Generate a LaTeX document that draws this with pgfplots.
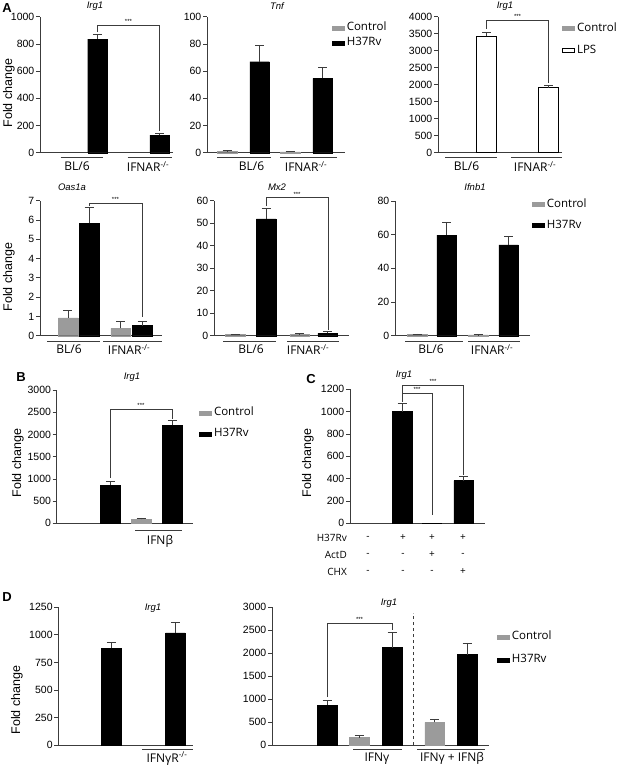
\documentclass[border=0pt]{standalone}
\usepackage{pgfplots}
\pgfplotsset{compat=1.18}
\usepackage{fontspec}
\setmainfont{Liberation Sans}
\newfontfamily\osans{Open Sans}
\definecolor{ctrl}{RGB}{155,155,155}
\definecolor{axc}{RGB}{60,60,60}

\tikzset{
 br/.style={line width=0.6pt, axc},
 star/.style={font=\fontsize{6}{6}\selectfont, inner sep=1pt, anchor=south},
}
\pgfplotsset{
 panel/.style={scale only axis, anchor=south west,
   axis x line=bottom, axis y line=left,
   axis line style={-,line width=0.7pt,axc},
   xtick=\empty, ymin=0, tick align=outside, major tick length=4pt,
   ytick style={line width=0.7pt,axc},
   yticklabel style={font=\fontsize{10.5}{12}\selectfont, inner sep=1.5pt},
   /pgf/number format/assume math mode=true,
   /pgf/number format/1000 sep={},
   clip=false},
 bk/.style={ybar, bar width=19.5pt, bar shift=0pt, fill=black, draw=black, line width=0.4pt,
   error bars/y dir=plus, error bars/y explicit,
   error bars/error bar style={line width=0.7pt, axc},
   error bars/error mark options={rotate=90, mark size=4.5pt, line width=0.7pt, axc}},
 gr/.style={bk, fill=ctrl, draw=ctrl},
 wh/.style={bk, fill=white, draw=black, line width=0.7pt},
 leg/.style={legend style={draw=none, fill=none, inner sep=0pt, outer sep=0pt, row sep=#1,
   font=\osans\fontsize{11.5}{11.5}\selectfont,
   nodes={inner ysep=0.5pt, inner xsep=2.5pt, text height=8pt, text depth=2.5pt},
   anchor=north west}, legend cell align=left},
 limg/.style={legend image code/.code={\fill[#1] (0pt,-2pt) rectangle (12pt,2pt);}},
 limgw/.style={legend image code/.code={\draw[black, fill=white, line width=0.6pt] (0pt,-2pt) rectangle (12pt,2pt);}},
}
\newcommand{\ul}[3]{\draw[line width=0.6pt,axc] (#1pt,-#3pt) -- (#2pt,-#3pt);}
\newcommand{\lb}[3]{\node[font=\osans\fontsize{12}{12}\selectfont, inner sep=0pt] at (#1pt,-#2pt) {#3};}
\newcommand{\ttl}[3]{\node[font=\itshape\fontsize{9.5}{9.5}\selectfont, inner sep=0pt] at (#1pt,-#2pt) {#3};}
\newcommand{\fc}[2]{\node[font=\fontsize{12.5}{12.5}\selectfont, rotate=90, inner sep=0pt] at (#1pt,-#2pt) {Fold change};}
\newcommand{\pl}[3]{\node[font=\bfseries\fontsize{13}{13}\selectfont, inner sep=0pt] at (#1pt,-#2pt) {#3};}
\newcommand{\sg}[3]{\node[font=\osans\fontsize{10}{10}\selectfont, inner sep=0pt] at (#1pt,-#2pt) {#3};}

\begin{document}
\begin{tikzpicture}
\useasboundingbox (0pt,0pt) rectangle (618pt,-766pt);

% ---------- A1 Irg1 ----------
\begin{axis}[panel, at={(40pt,-152.7pt)}, width=133pt, height=136pt,
  xmin=40, xmax=173, ymax=1000, ytick={0,200,400,600,800,1000}]
\addplot[bk] coordinates {(97.5,836) +- (0,34) (159.7,130) +- (0,15)};
\draw[br] (axis cs:97.5,885) |- (axis cs:159.5,939) -- (axis cs:159.5,158);
\node[star] at (axis cs:128.5,939) {***};
\end{axis}

% ---------- A2 Tnf ----------
\begin{axis}[panel, leg=3.5pt, legend style={at={(0.905,0.958)}},
  at={(207pt,-152.7pt)}, width=138pt, height=136pt,
  xmin=207, xmax=345, ymax=100, ytick={0,20,40,60,80,100}]
\addlegendimage{limg=ctrl}\addlegendentry{Control}
\addlegendimage{limg=black}\addlegendentry{H37Rv}
\addplot[gr, forget plot] coordinates {(227,1.0) +- (0,0.5) (290,0.6) +- (0,0.3)};
\addplot[bk, forget plot] coordinates {(259.5,66.9) +- (0,12) (322.5,54.7) +- (0,7.8)};
\end{axis}

% ---------- A3 Irg1 LPS ----------
\begin{axis}[panel, leg=10.5pt, legend style={at={(1.0,0.956)}},
  at={(438pt,-152.7pt)}, width=124pt, height=136pt,
  xmin=438, xmax=562, ymax=4000, ytick={0,500,...,4000}]
\addlegendimage{limg=ctrl}\addlegendentry{Control}
\addlegendimage{limgw}\addlegendentry{LPS}
\addplot[wh, forget plot] coordinates {(486.5,3422) +- (0,117) (548.5,1912) +- (0,68)};
\draw[br] (axis cs:486.5,3650) |- (axis cs:548.5,3900) -- (axis cs:548.5,2050);
\node[star] at (axis cs:517.5,3900) {***};
\end{axis}

% ---------- A4 Oas1a ----------
\begin{axis}[panel, at={(40pt,-335.7pt)}, width=122pt, height=135pt,
  xmin=40, xmax=162, ymax=7, ytick={0,1,2,3,4,5,6,7}]
\addplot[gr] coordinates {(68,0.93) +- (0,0.40) (120.5,0.38) +- (0,0.35)};
\addplot[bk] coordinates {(89,5.82) +- (0,0.82) (142,0.52) +- (0,0.21)};
\draw[br] (axis cs:89,6.72) |- (axis cs:142,6.88) -- (axis cs:142,0.97);
\node[star] at (axis cs:115.5,6.88) {***};
\end{axis}

% ---------- A5 Mx2 ----------
\begin{axis}[panel, at={(214pt,-335.7pt)}, width=135pt, height=135pt,
  xmin=214, xmax=349, ymax=60, ytick={0,10,...,60}]
\addplot[gr] coordinates {(235,0.5) +- (0,0.3) (299.5,0.5) +- (0,0.6)};
\addplot[bk] coordinates {(266,51.9) +- (0,4.7) (327.5,1.0) +- (0,1.1)};
\draw[br] (axis cs:266,57.5) |- (axis cs:328,61.3) -- (axis cs:328,2.6);
\node[star] at (axis cs:297,61.3) {***};
\end{axis}

% ---------- A6 Ifnb1 ----------
\begin{axis}[panel, leg=9.5pt, legend style={at={(1.015,1.018)}},
  at={(395pt,-335.7pt)}, width=135pt, height=134.7pt,
  xmin=395, xmax=530, ymax=80, ytick={0,20,...,80}]
\addlegendimage{limg=ctrl}\addlegendentry{Control}
\addlegendimage{limg=black}\addlegendentry{H37Rv}
\addplot[gr, forget plot] coordinates {(417,0.8) +- (0,0.3) (478,0.5) +- (0,0.2)};
\addplot[bk, forget plot] coordinates {(446.5,59.8) +- (0,7.3) (508.5,53.9) +- (0,5.3)};
\end{axis}

% ---------- B ----------
\begin{axis}[panel, leg=9.5pt, legend style={at={(1.045,0.871)}},
  at={(56.7pt,-523.3pt)}, width=136.3pt, height=133.3pt,
  xmin=56.7, xmax=193, ymax=3000, ytick={0,500,...,3000}]
\addlegendimage{limg=ctrl}\addlegendentry{Control}
\addlegendimage{limg=black}\addlegendentry{H37Rv}
\addplot[gr, forget plot] coordinates {(141,90) +- (0,30)};
\addplot[bk, forget plot] coordinates {(110.3,862) +- (0,75) (172,2205) +- (0,120)};
\draw[br] (axis cs:110.3,1020) |- (axis cs:172,2573) -- (axis cs:172,2350);
\node[star] at (axis cs:141,2573) {***};
\end{axis}

% ---------- C ----------
\begin{axis}[panel, at={(350pt,-523.3pt)}, width=135pt, height=134pt,
  xmin=350, xmax=485, ymax=1200, ytick={0,200,...,1200}]
\addplot[bk] coordinates {(402,1000) +- (0,75) (463.5,382) +- (0,36)};
\addplot[ybar, bar width=19.5pt, bar shift=0pt, fill=black, draw=none] coordinates {(432,2)};
\draw[br] (axis cs:402,1086) |- (axis cs:432,1168) -- (axis cs:432,75);
\draw[br] (axis cs:402,1168) |- (axis cs:463.5,1240) -- (axis cs:463.5,432);
\node[star] at (axis cs:417,1168) {***};
\node[star] at (axis cs:433,1240) {***};
\end{axis}

% ---------- D1 ----------
\begin{axis}[panel, at={(58.3pt,-745pt)}, width=134.7pt, height=137.7pt,
  xmin=58.3, xmax=193, ymax=1250, ytick={0,250,...,1250}]
\addplot[bk] coordinates {(111.3,877) +- (0,51) (175.3,1019) +- (0,94)};
\end{axis}

% ---------- D2 ----------
\begin{axis}[panel, leg=11.5pt, legend style={at={(1.037,0.824)}},
  at={(272pt,-745pt)}, width=217pt, height=138pt,
  xmin=272, xmax=489, ymax=3000, ytick={0,500,...,3000}]
\addlegendimage{limg=ctrl}\addlegendentry{Control}
\addlegendimage{limg=black}\addlegendentry{H37Rv}
\addplot[gr, forget plot] coordinates {(359,159) +- (0,43) (434.5,492) +- (0,65)};
\addplot[bk, forget plot] coordinates {(327,867) +- (0,109) (392,2118) +- (0,325) (467,1966) +- (0,253)};
\draw[dashed, line width=0.6pt, axc] (axis cs:413,0) -- (axis cs:413,2870);
\draw[br] (axis cs:327,1043) |- (axis cs:392,2652) -- (axis cs:392,2500);
\node[star] at (axis cs:359.5,2652) {***};
\end{axis}

% ---------- annotations ----------
\pl{7}{8}{A} \pl{21}{377}{B} \pl{311}{379}{C} \pl{7}{597}{D}
\fc{9}{93} \fc{9}{277} \fc{18}{463} \fc{308}{463} \fc{17}{700}
\ttl{95}{6}{Irg1} \ttl{277}{6}{Tnf} \ttl{505}{6}{Irg1}
\ttl{72}{187}{Oas1a} \ttl{277}{187}{Mx2} \ttl{475}{187}{Ifnb1}
\ttl{132}{377}{Irg1} \ttl{404}{375}{Irg1}
\ttl{153}{608}{Irg1} \ttl{389}{603}{Irg1}

% group underlines and labels
\ul{60.7}{103}{157} \lb{77}{166.5}{BL/6}
\ul{127.7}{171.7}{157} \lb{148}{166.5}{IFNAR\textsuperscript{-/-}}
\ul{217}{271}{157} \lb{251.5}{166.5}{BL/6}
\ul{280}{337}{157} \lb{306}{166.5}{IFNAR\textsuperscript{-/-}}
\ul{445}{497}{157} \lb{466.5}{166.5}{BL/6}
\ul{511}{562}{157} \lb{535}{166.5}{IFNAR\textsuperscript{-/-}}

\ul{47}{100}{341.5} \lb{69}{349.5}{BL/6}
\ul{103}{162}{341.5} \lb{129}{349.5}{IFNAR\textsuperscript{-/-}}
\ul{223}{276}{341.5} \lb{251}{349.5}{BL/6}
\ul{287}{339}{341.5} \lb{308}{349.5}{IFNAR\textsuperscript{-/-}}
\ul{405}{463}{341.5} \lb{431}{349.5}{BL/6}
\ul{468}{520}{341.5} \lb{492}{349.5}{IFNAR\textsuperscript{-/-}}

\ul{135}{182}{530.7} \lb{160}{541.7}{IFNβ}

\ul{142}{193}{749.3} \lb{167}{758.5}{IFNγR\textsuperscript{-/-}}
\ul{353}{402}{749.3} \lb{377}{758.5}{IFNγ}
\ul{417}{485}{749.3} \lb{452}{758.5}{IFNγ + IFNβ}

% C row labels
\node[font=\osans\fontsize{10}{10}\selectfont, inner sep=0pt, anchor=east] at (347pt,-538pt) {H37Rv};
\node[font=\osans\fontsize{10}{10}\selectfont, inner sep=0pt, anchor=east] at (347pt,-555pt) {ActD};
\node[font=\osans\fontsize{10}{10}\selectfont, inner sep=0pt, anchor=east] at (347pt,-572pt) {CHX};
\sg{368}{538}{-} \sg{403}{538}{+} \sg{432}{538}{+} \sg{463}{538}{+}
\sg{368}{555}{-} \sg{403}{555}{-} \sg{432}{555}{+} \sg{463}{555}{-}
\sg{368}{572}{-} \sg{403}{572}{-} \sg{432}{572}{-} \sg{463}{572}{+}
\end{tikzpicture}
\end{document}
